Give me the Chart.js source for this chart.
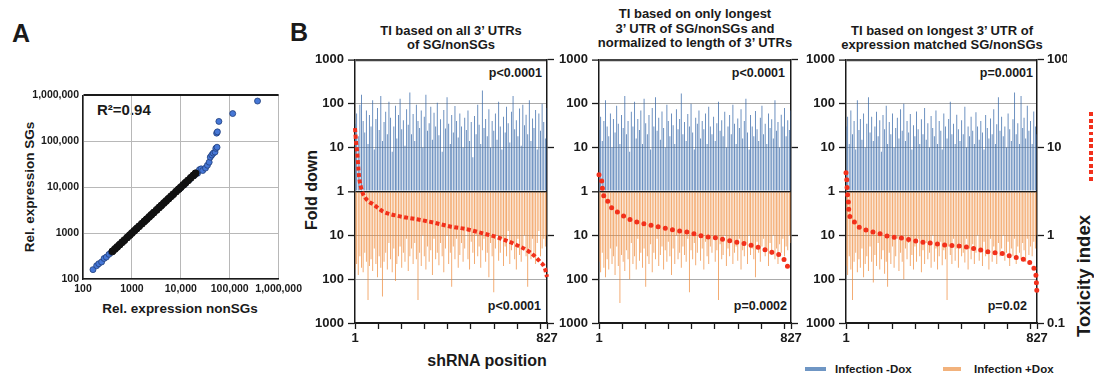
<!DOCTYPE html>
<html>
<head>
<meta charset="utf-8">
<script src="https://cdn.jsdelivr.net/npm/chart.js@4.4.1/dist/chart.umd.min.js"></script>
<style>
  body { margin:0; width:1094px; height:374px; position:relative; overflow:hidden; background:#fff;
         font-family:'Liberation Sans', Arial, sans-serif; font-weight:bold; color:#1a1a1a; }
  canvas { position:absolute; }
  .txt { position:absolute; white-space:nowrap; }
  .ctr { transform:translateX(-50%); text-align:center; }
  .rot { transform:translate(-50%,-50%) rotate(-90deg); }
  .pv { position:absolute; font-size:12.5px; white-space:nowrap; }
</style>
</head>
<body>
<div class="txt" style="left:12px;top:19px;font-size:25px">A</div>
<div class="txt" style="left:290px;top:18px;font-size:25px">B</div>

<div class="txt" style="left:97px;top:101px;font-size:15px">R²=0.94</div>
<div class="txt rot" style="left:29px;top:187px;font-size:13.5px">Rel. expression SGs</div>
<div class="txt ctr" style="left:180px;top:301px;font-size:13.5px">Rel. expression nonSGs</div>

<div class="txt ctr" style="left:451px;top:24px;font-size:13px;line-height:13.5px">TI based on all 3’ UTRs<br>of SG/nonSGs</div>
<div class="txt ctr" style="left:695px;top:7px;font-size:13px;line-height:14.5px">TI based on only longest<br>3’ UTR of SG/nonSGs and<br>normalized to length of 3’ UTRs</div>
<div class="txt ctr" style="left:942px;top:24px;font-size:13px;line-height:13.5px">TI based on longest 3’ UTR of<br>expression matched SG/nonSGs</div>

<div class="pv" style="right:552px;top:66px">p&lt;0.0001</div>
<div class="pv" style="right:553px;top:299px">p&lt;0.0001</div>
<div class="pv" style="right:309px;top:66px">p&lt;0.0001</div>
<div class="pv" style="right:307px;top:299px">p=0.0002</div>
<div class="pv" style="right:61px;top:66px">p=0.0001</div>
<div class="pv" style="right:67px;top:299px">p=0.02</div>

<div class="txt rot" style="left:312px;top:190px;font-size:16px">Fold down</div>
<div class="txt ctr" style="left:487px;top:352px;font-size:16px">shRNA position</div>
<div class="txt rot" style="left:1084px;top:276px;font-size:18.5px">Toxicity index</div>
<div style="position:absolute;left:1089px;top:112px;width:4px;height:70px;background:repeating-linear-gradient(#f2301b 0 4px, transparent 4px 6.5px)"></div>

<div style="position:absolute;left:805px;top:367px;width:21px;height:4px;background:#6f96c4"></div>
<div class="txt" style="left:835px;top:363px;font-size:11.5px">Infection -Dox</div>
<div style="position:absolute;left:943px;top:367px;width:18px;height:4px;background:#f2b27c"></div>
<div class="txt" style="left:974px;top:363px;font-size:11.5px">Infection +Dox</div>

<canvas id="chartA" width="306" height="214" style="left:0;top:85px"></canvas>
<canvas id="chartB1" width="275" height="302" style="left:300px;top:48px"></canvas>
<canvas id="chartB2" width="275" height="302" style="left:544px;top:48px"></canvas>
<canvas id="chartB3" width="276" height="302" style="left:791px;top:48px"></canvas>

<script>
// ---- panel A: rel. expression (nonSGs vs SGs)
const denseX = [400, 450, 500, 560, 630, 700, 800, 900, 1000, 1120, 1250, 1400, 1600, 1800, 2000, 2250, 2500, 2800, 3200, 3600, 4000, 4500, 5000, 5600, 6300, 7000, 8000, 9000, 10000, 11200, 12500, 14000, 16000, 18000, 20000];
const denseY = [400, 450, 500, 560, 630, 700, 800, 900, 1000, 1120, 1250, 1400, 1600, 1800, 2000, 2250, 2500, 2800, 3200, 3600, 4000, 4500, 5000, 5600, 6300, 7000, 8000, 9000, 10000, 11200, 12500, 14000, 16000, 18000, 20000];
const sparseX = [160, 190, 210, 240, 270, 300, 340, 380, 9500, 12000, 15000, 19000, 22000, 24000, 26000, 28000, 32000, 35000, 38000, 40000, 43000, 46000, 50000, 52000, 55000, 54000, 56000, 60000, 115000, 370000];
const sparseY = [160, 195, 215, 235, 280, 300, 345, 380, 9200, 11500, 14500, 18000, 20000, 24000, 25000, 23000, 26000, 30000, 35000, 45000, 50000, 55000, 58000, 70000, 74000, 150000, 160000, 270000, 400000, 750000];
const logTicks = [100, 1000, 10000, 100000, 1000000];

// ---- panel B: fold down per shRNA (sampled across positions 1..827)
const b1Minus = [35,60,18,95,160,40,22,70,12,55,30,120,9,45,80,25,150,14,38,65,20,110,48,8,30,90,16,55,130,26,42,11,75,33,180,20,58,14,95,40,28,70,10,50,160,24,36,85,15,62,30,105,19,44,8,72,27,140,35,12,55,22,88,40,17,60,30,10,48,25,70,14,38,6,52,20,95,33,12,200,28,45,18,75,10,40,24,60,15,110,30,9,50,22,85,36,13,65,150,26,42,18,78,11,95,32,56,20,120,14,46,28,72,9,60,24,100,38,16,80];
const b1Plus = [60,45,80,30,55,70,25,40,300,50,35,65,20,45,90,30,55,250,40,25,60,15,35,70,20,110,45,30,18,55,25,40,12,65,30,20,45,15,35,300,25,50,10,30,60,18,40,22,80,12,35,25,48,15,30,70,20,10,45,25,150,18,35,12,55,28,15,40,20,8,35,60,14,25,45,10,30,18,55,22,12,40,25,90,15,30,200,20,10,38,25,12,50,18,30,8,45,22,15,35,60,12,28,40,18,10,30,150,20,35,12,25,45,15,8,30,20,12,18,10];
const b2Minus = [25,50,14,40,120,30,18,60,10,45,22,90,35,12,55,28,150,20,40,8,65,30,110,16,45,25,70,12,130,36,20,55,9,80,30,140,24,48,15,66,28,10,95,40,18,60,32,12,75,26,45,170,20,38,14,58,30,100,22,9,48,35,70,16,40,26,60,12,85,30,20,50,14,36,110,24,42,18,65,10,30,55,20,95,35,12,46,28,75,16,40,130,22,9,55,30,18,68,26,14,48,90,20,35,12,60,28,44,16,120,24,38,10,56,30,80,18,42,25,70];
const b2Plus = [40,70,25,55,90,35,60,20,45,30,80,18,50,350,28,40,65,22,35,100,15,45,30,60,12,38,25,55,20,150,30,45,16,70,25,35,12,50,28,18,60,22,40,14,30,80,20,45,10,35,25,55,18,28,40,12,200,22,35,15,48,25,10,38,20,60,14,30,45,18,25,12,40,22,300,16,35,28,10,50,20,30,14,45,25,18,38,12,60,22,30,15,45,10,28,20,35,90,14,25,40,18,12,30,22,50,15,28,10,35,20,45,16,25,12,30,18,22,10,15];
const b3Minus = [30,50,12,70,20,40,9,120,25,45,15,60,10,35,140,22,50,14,30,65,18,42,8,55,26,90,12,38,20,60,10,28,48,16,75,24,100,14,40,22,58,9,32,18,66,26,12,44,20,80,15,36,10,52,28,18,70,12,40,24,9,60,30,16,45,110,20,35,12,56,26,14,42,20,85,10,30,18,50,24,12,64,30,15,40,22,9,55,28,16,46,20,75,12,34,140,24,50,18,30,10,60,26,14,44,180,20,36,12,150,28,48,16,90,24,40,12,66,30,20];
const b3Plus = [50,80,30,60,300,40,25,70,35,55,20,90,45,30,65,18,40,120,28,50,15,60,35,22,75,40,150,25,45,18,55,30,12,65,25,40,100,20,35,15,50,28,60,18,40,12,30,70,22,45,15,35,25,55,10,40,20,60,30,14,48,22,35,300,18,28,45,12,38,20,55,15,30,25,42,12,60,20,35,16,45,25,10,38,20,50,14,30,24,60,12,40,18,28,45,15,30,20,10,38,25,14,50,20,30,12,45,18,25,35,15,22,40,12,28,18,30,14,20,10];

// ---- toxicity index curves (right axis)
const b1ToxPos = [1, 5, 10, 18, 31, 44, 87, 121, 195, 268, 337, 410, 483, 552, 625, 698, 754, 797, 818, 827];
const b1ToxVal = [16.6, 12, 9.1, 4.8, 3.2, 2.7, 2.18, 1.87, 1.64, 1.52, 1.40, 1.26, 1.17, 1.05, 0.925, 0.77, 0.64, 0.50, 0.42, 0.335];
const b2ToxPos = [1, 10, 18, 35, 48, 70, 96, 143, 208, 268, 328, 388, 448, 513, 573, 638, 698, 754, 784, 801, 814, 827];
const b2ToxVal = [4.9, 4.6, 3.06, 2.55, 2.18, 1.92, 1.73, 1.48, 1.33, 1.23, 1.14, 1.08, 0.974, 0.925, 0.855, 0.79, 0.71, 0.626, 0.58, 0.51, 0.435, 0.41];
const b3ToxPos = [1, 5, 6, 10, 12, 14, 27, 44, 66, 92, 122, 157, 183, 248, 308, 373, 438, 503, 568, 628, 689, 719, 749, 784, 805, 818, 823, 825, 827];
const b3ToxVal = [5.15, 3.97, 3.22, 2.69, 2.18, 1.77, 1.56, 1.33, 1.2, 1.14, 1.08, 1.03, 0.974, 0.925, 0.855, 0.81, 0.77, 0.75, 0.695, 0.64, 0.61, 0.565, 0.55, 0.51, 0.46, 0.39, 0.335, 0.265, 0.215];

const xTickVals = [1, 100, 200, 300, 400, 500, 600, 700, 800, 827];
const foldTicks = [-3, -2, -1, 0, 1, 2, 3];
const toxTicks = [0.1, 1, 10, 100];

const INK = '#1a1a1a';
Chart.defaults.font.family = "'Liberation Sans', Arial, sans-serif";
Chart.defaults.font.weight = 'bold';
Chart.defaults.color = INK;
Chart.defaults.animation = false;

function spread(n) {
    const out = [];
    for (let i = 0; i < n; i++) out.push(1 + Math.round(i * 826 / (n - 1)));
    return out;
}

function fmtNum(v) {
    return v >= 10000 ? v.toLocaleString('en-US') : String(v);
}

new Chart(document.getElementById('chartA'), {
    type: 'scatter',
    data: {
        datasets: [
            {
                data: denseX.map((x, i) => ({ x: x, y: denseY[i] })),
                backgroundColor: '#111',
                borderColor: '#111',
                pointRadius: 3.5
            },
            {
                data: sparseX.map((x, i) => ({ x: x, y: sparseY[i] })),
                backgroundColor: '#4677d6',
                borderColor: '#203d7a',
                borderWidth: 0.8,
                pointRadius: 3
            }
        ]
    },
    options: {
        responsive: false,
        devicePixelRatio: 1,
        layout: { padding: { top: 10, right: 25, left: 0, bottom: 0 } },
        plugins: { legend: { display: false }, tooltip: { enabled: false } },
        scales: {
            x: {
                type: 'logarithmic', min: 100, max: 1000000,
                afterBuildTicks: s => { s.ticks = logTicks.map(v => ({ value: v })); },
                afterFit: s => { s.height = 20; },
                ticks: { callback: fmtNum, maxRotation: 0, autoSkip: false, padding: 4, font: { size: 10.5 } },
                grid: { color: '#b8b8b8', drawTicks: false },
                border: { color: INK, width: 1.5 }
            },
            y: {
                type: 'logarithmic', min: 100, max: 1000000,
                afterBuildTicks: s => { s.ticks = logTicks.map(v => ({ value: v })); },
                afterFit: s => { s.width = 83; },
                ticks: { callback: fmtNum, padding: 4, font: { size: 10.5 } },
                grid: {
                    color: ctx => ctx.tick && ctx.tick.value === 1000000 ? INK : '#b8b8b8',
                    lineWidth: ctx => ctx.tick && ctx.tick.value === 1000000 ? 2 : 1,
                    drawTicks: false
                },
                border: { color: INK, width: 1.5 }
            }
        }
    }
});

function makePanel(id, minusDox, plusDox, toxPos, toxVal, dots, rightLabels, rightW) {
    const posM = spread(minusDox.length);
    const posP = spread(plusDox.length);
    const redStyle = dots
        ? { borderDash: [0, 7.3], borderWidth: 5, borderCapStyle: 'round' }
        : { borderDash: [4, 2.4], borderWidth: 4, borderCapStyle: 'butt' };

    new Chart(document.getElementById(id), {
        type: 'bar',
        data: {
            datasets: [
                Object.assign({
                    type: 'line',
                    label: 'Toxicity index',
                    data: toxPos.map((x, i) => ({ x: x, y: toxVal[i] })),
                    yAxisID: 'yr',
                    borderColor: '#f2301b',
                    pointRadius: 0,
                    cubicInterpolationMode: 'monotone',
                    fill: false,
                    clip: 8
                }, redStyle),
                {
                    label: 'Infection -Dox',
                    data: minusDox.map((f, i) => ({ x: posM[i], y: Math.log10(f) })),
                    backgroundColor: 'rgba(52,102,168,0.8)',
                    barThickness: 0.9,
                    inflateAmount: 0,
                    grouped: false,
                    yAxisID: 'y'
                },
                {
                    label: 'Infection +Dox',
                    data: plusDox.map((f, i) => ({ x: posP[i], y: -Math.log10(f) })),
                    backgroundColor: 'rgba(238,132,48,0.75)',
                    barThickness: 0.9,
                    inflateAmount: 0,
                    grouped: false,
                    yAxisID: 'y'
                }
            ]
        },
        options: {
            responsive: false,
            devicePixelRatio: 1,
            layout: { padding: { top: 10, right: 0, left: 0, bottom: 0 } },
            plugins: { legend: { display: false }, tooltip: { enabled: false } },
            scales: {
                x: {
                    type: 'linear', min: 1, max: 827, offset: false,
                    afterBuildTicks: s => { s.ticks = xTickVals.map(v => ({ value: v })); },
                    afterFit: s => { s.height = 27; },
                    ticks: {
                        callback: v => (v === 1 || v === 827) ? String(v) : '',
                        maxRotation: 0, autoSkip: false, padding: 2, font: { size: 13 }
                    },
                    grid: { drawOnChartArea: false, offset: false, tickLength: 6, tickColor: INK, tickWidth: 1.3 },
                    border: { color: INK, width: 1.5 }
                },
                y: {
                    type: 'linear', position: 'left', min: -3, max: 3,
                    afterBuildTicks: s => { s.ticks = foldTicks.map(v => ({ value: v })); },
                    afterFit: s => { s.width = 55; },
                    ticks: { callback: v => String(Math.pow(10, Math.abs(v))), padding: 4, font: { size: 13 } },
                    grid: {
                        color: ctx => {
                            const v = ctx.tick ? ctx.tick.value : 1;
                            if (v === 0) return INK;
                            if (v === 3) return '#444';
                            if (v === -3) return INK;
                            return '#ababab';
                        },
                        lineWidth: ctx => {
                            const v = ctx.tick ? ctx.tick.value : 1;
                            if (v === 0) return 1.6;
                            if (v === 3) return 2.2;
                            return 1;
                        },
                        tickLength: 7, tickColor: INK, tickWidth: 1.3
                    },
                    border: { color: INK, width: 1.5 }
                },
                yr: {
                    type: 'logarithmic', position: 'right', min: 0.1, max: 100,
                    afterBuildTicks: s => { s.ticks = toxTicks.map(v => ({ value: v })); },
                    afterFit: s => { s.width = rightW; },
                    ticks: { display: rightLabels, callback: v => String(v), padding: 3, font: { size: 13 } },
                    grid: { drawOnChartArea: false, tickLength: 7, tickColor: INK, tickWidth: 1.3 },
                    border: { color: INK, width: 1.5 }
                }
            }
        }
    });
}

makePanel('chartB1', b1Minus, b1Plus, b1ToxPos, b1ToxVal, false, false, 28);
makePanel('chartB2', b2Minus, b2Plus, b2ToxPos, b2ToxVal, true, false, 28);
makePanel('chartB3', b3Minus, b3Plus, b3ToxPos, b3ToxVal, true, true, 30);
</script>
</body>
</html>
